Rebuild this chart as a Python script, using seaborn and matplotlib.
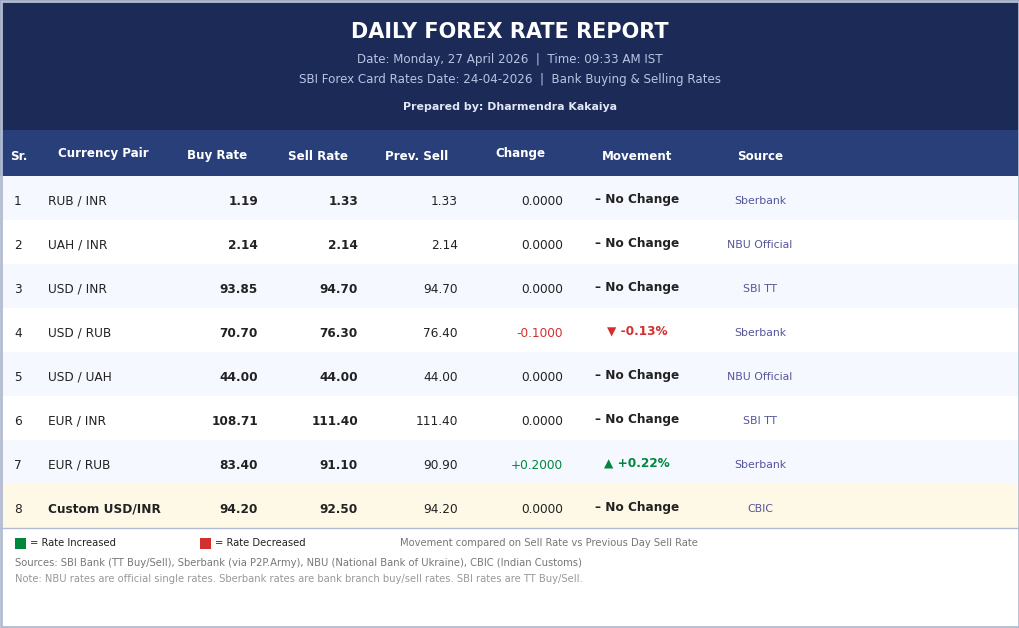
import matplotlib
matplotlib.use("Agg")
import matplotlib.pyplot as plt
from matplotlib.patches import Rectangle
import seaborn as sns

sns.set_theme(style="white")
plt.rcParams['font.family'] = ['DejaVu Sans']

# ---------------- data ----------------
serials = [1, 2, 3, 4, 5, 6, 7, 8]
pairs = ["RUB / INR", "UAH / INR", "USD / INR", "USD / RUB", "USD / UAH",
         "EUR / INR", "EUR / RUB", "Custom USD/INR"]
buy_rates = [1.19, 2.14, 93.85, 70.70, 44.00, 108.71, 83.40, 94.20]
sell_rates = [1.33, 2.14, 94.70, 76.30, 44.00, 111.40, 91.10, 92.50]
prev_sell = [1.33, 2.14, 94.70, 76.40, 44.00, 111.40, 90.90, 94.20]
changes = [0.0, 0.0, 0.0, -0.1, 0.0, 0.0, 0.2, 0.0]
pct_changes = [0.0, 0.0, 0.0, -0.13, 0.0, 0.0, 0.22, 0.0]
sources = ["Sberbank", "NBU Official", "SBI TT", "Sberbank", "NBU Official",
           "SBI TT", "Sberbank", "CBIC"]
headers = ["Sr.", "Currency Pair", "Buy Rate", "Sell Rate", "Prev. Sell",
           "Change", "Movement", "Source"]

title = "DAILY FOREX RATE REPORT"
subtitle1 = "Date: Monday, 27 April 2026  |  Time: 09:33 AM IST"
subtitle2 = "SBI Forex Card Rates Date: 24-04-2026  |  Bank Buying & Selling Rates"
prepared = "Prepared by: Dharmendra Kakaiya"
legend_up = "= Rate Increased"
legend_down = "= Rate Decreased"
legend_note = "Movement compared on Sell Rate vs Previous Day Sell Rate"
sources_note = "Sources: SBI Bank (TT Buy/Sell), Sberbank (via P2P.Army), NBU (National Bank of Ukraine), CBIC (Indian Customs)"
foot_note = "Note: NBU rates are official single rates. Sberbank rates are bank branch buy/sell rates. SBI rates are TT Buy/Sell."

# ---------------- style ----------------
W, H = 1020, 628
NAVY = "#1b2a57"
HEAD = "#283f7a"
ROW_ALT = "#f5f8ff"
ROW_HI = "#fef9e6"
GREEN = "#00873c"
RED = "#d32f2f"
TXT = "#222222"
SRC = "#55559a"
BORDER = "#b3bcd2"
FS = 8.7

fig = plt.figure(figsize=(W / 100, H / 100), dpi=100)
ax = fig.add_axes([0, 0, 1, 1])
ax.set_xlim(0, W)
ax.set_ylim(H, 0)
ax.axis("off")

# background blocks
ax.add_patch(Rectangle((0, 0), W, H, facecolor="white", edgecolor="none"))
ax.add_patch(Rectangle((0, 0), W, 130, facecolor=NAVY, edgecolor="none"))
ax.add_patch(Rectangle((0, 130), W, 46, facecolor=HEAD, edgecolor="none"))

row_top = 176
row_h = 44
n = len(pairs)
for i in range(n):
    if i == n - 1:
        fc = ROW_HI
    elif i % 2 == 0:
        fc = ROW_ALT
    else:
        fc = "white"
    ax.barh(row_top + i * row_h + row_h / 2, W, height=row_h, left=0,
            color=fc, edgecolor="none")

ax.plot([0, W], [528, 528], color=BORDER, lw=1.0)
ax.add_patch(Rectangle((1, 1), W - 2, H - 2, facecolor="none",
                       edgecolor=BORDER, lw=2.0))

# header texts
ax.text(510, 32, title, ha="center", va="center", color="white",
        fontsize=15, fontweight="bold")
ax.text(510, 60, subtitle1, ha="center", va="center", color="#b9c4e2", fontsize=8.6)
ax.text(510, 80, subtitle2, ha="center", va="center", color="#b9c4e2", fontsize=8.6)
ax.text(510, 107, prepared, ha="center", va="center", color="#e2e7f5",
        fontsize=7.9, fontweight="bold")

# column headers
hx = [10, 103, 217, 318, 417, 520, 637, 760]
hy = [156, 154, 155, 156, 156, 154, 156, 156]
ha_h = ["left", "center", "center", "center", "center", "center", "center", "center"]
for x, y, h, a in zip(hx, hy, headers, ha_h):
    ax.text(x, y, h, ha=a, va="center", color="white", fontsize=8.6,
            fontweight="bold")

# rows
for i in range(n):
    y = row_top + i * row_h + row_h / 2 + 3.5
    last = i == n - 1
    ax.text(14, y, str(serials[i]), ha="left", va="center", color=TXT, fontsize=FS)
    ax.text(48, y, pairs[i], ha="left", va="center", color=TXT, fontsize=FS,
            fontweight="bold" if last else "normal")
    ax.text(258, y, f"{buy_rates[i]:.2f}", ha="right", va="center", color=TXT,
            fontsize=FS, fontweight="bold")
    ax.text(358, y, f"{sell_rates[i]:.2f}", ha="right", va="center", color=TXT,
            fontsize=FS, fontweight="bold")
    ax.text(458, y, f"{prev_sell[i]:.2f}", ha="right", va="center", color=TXT,
            fontsize=FS)
    c = changes[i]
    if c > 0:
        ctxt, ccol = f"+{c:.4f}", GREEN
    elif c < 0:
        ctxt, ccol = f"{c:.4f}", RED
    else:
        ctxt, ccol = f"{c:.4f}", TXT
    ax.text(563, y, ctxt, ha="right", va="center", color=ccol, fontsize=FS)
    p = pct_changes[i]
    if p > 0:
        mtxt, mcol = f"▲ +{p:.2f}%", GREEN
    elif p < 0:
        mtxt, mcol = f"▼ {p:.2f}%", RED
    else:
        mtxt, mcol = "– No Change", TXT
    ax.text(637, y - 2, mtxt, ha="center", va="center", color=mcol,
            fontsize=FS, fontweight="bold")
    ax.text(760, y, sources[i], ha="center", va="center", color=SRC, fontsize=7.8)

# footer legend
ax.add_patch(Rectangle((15, 538), 11, 11, facecolor=GREEN, edgecolor="none"))
ax.text(30, 543.5, legend_up, ha="left", va="center", color=TXT, fontsize=7.2)
ax.add_patch(Rectangle((200, 538), 11, 11, facecolor=RED, edgecolor="none"))
ax.text(215, 543.5, legend_down, ha="left", va="center", color=TXT, fontsize=7.2)
ax.text(400, 543.5, legend_note, ha="left", va="center", color="#777777", fontsize=7.2)
ax.text(15, 563, sources_note, ha="left", va="center", color="#777777", fontsize=7.2)
ax.text(15, 579, foot_note, ha="left", va="center", color="#999999", fontsize=7.2)

fig.savefig("out.png", dpi=100)
